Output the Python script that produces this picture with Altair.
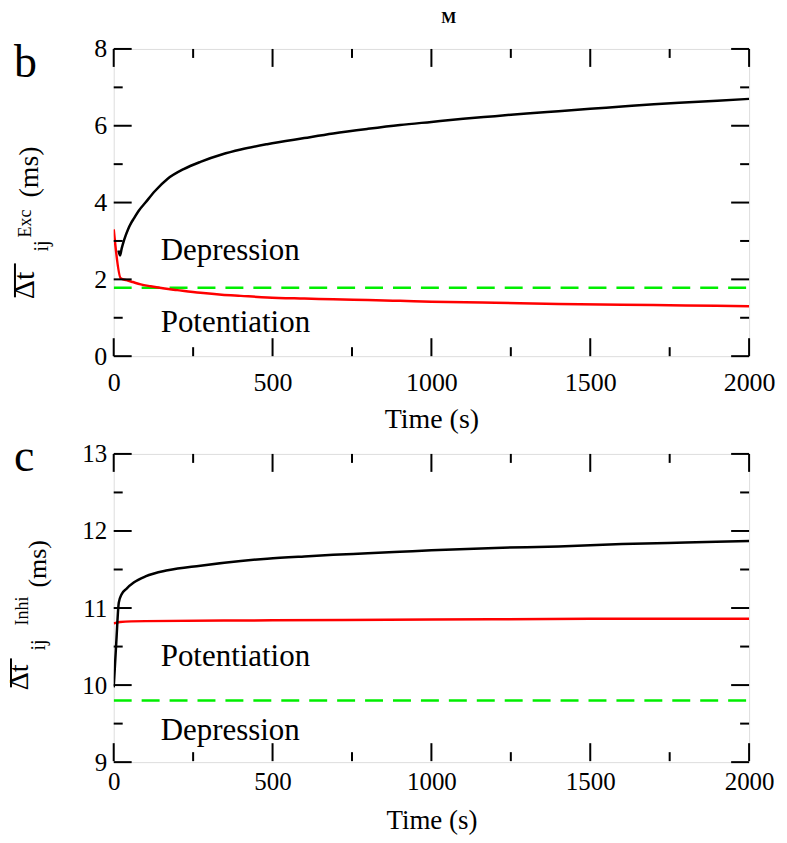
import altair as alt
import pandas as pd

W, H = 637, 308
FONT = "Liberation Serif, 'Times New Roman', Tinos, 'DejaVu Serif', serif"

# ---------------- panel b (excitatory) ----------------
exc_black_t = [15, 20, 25, 30, 38, 45, 55, 63, 80, 100, 130, 170, 220, 273, 340, 400, 483, 600, 691, 800, 901, 1000, 1100, 1200, 1300, 1400, 1500, 1600, 1700, 1780, 1900, 2000]
exc_black_v = [2.75, 2.62, 2.8, 2.95, 3.15, 3.3, 3.47, 3.58, 3.8, 4.0, 4.3, 4.62, 4.87, 5.06, 5.25, 5.38, 5.52, 5.68, 5.8, 5.92, 6.02, 6.1, 6.18, 6.25, 6.32, 6.38, 6.44, 6.5, 6.56, 6.6, 6.65, 6.7]
exc_red_t = [0, 22, 40, 60, 85, 116, 160, 200, 273, 340, 400, 483, 600, 691, 800, 901, 1000, 1200, 1400, 1600, 1800, 2000]
exc_red_v = [3.3, 2.03, 1.98, 1.93, 1.87, 1.82, 1.76, 1.72, 1.65, 1.6, 1.57, 1.53, 1.5, 1.48, 1.46, 1.44, 1.42, 1.39, 1.36, 1.34, 1.32, 1.30]
exc_green_t = [0, 2000]
exc_green_v = [1.78, 1.78]
exc_labels = ["Depression", "Potentiation"]
exc_label_t = [148, 148]
exc_label_v = [2.73, 0.86]

# ---------------- panel c (inhibitory) ----------------
inh_black_t = [0, 8, 16, 25, 40, 63, 100, 170, 273, 400, 483, 600, 691, 800, 901, 1000, 1200, 1400, 1600, 1800, 2000]
inh_black_v = [9.97, 10.55, 11.07, 11.18, 11.25, 11.33, 11.41, 11.49, 11.55, 11.61, 11.64, 11.67, 11.69, 11.71, 11.73, 11.75, 11.78, 11.8, 11.83, 11.85, 11.87]
inh_red_t = [0, 20, 100, 500, 1000, 1500, 2000]
inh_red_v = [10.80, 10.82, 10.83, 10.84, 10.85, 10.86, 10.86]
inh_green_t = [0, 2000]
inh_green_v = [9.8, 9.8]
inh_labels = ["Potentiation", "Depression"]
inh_label_t = [148, 148]
inh_label_v = [10.36, 9.41]

x_major = [0, 500, 1000, 1500, 2000]
x_minor = [250, 750, 1250, 1750]
exc_y_major = [0, 2, 4, 6, 8]
exc_y_minor = [1, 3, 5, 7]
inh_y_major = [9, 10, 11, 12, 13]
inh_y_minor = [9.5, 10.5, 11.5, 12.5]


def panel(bt, bv, rt, rv, gt, gv, lab, lt, lv, ydom, ymaj, ymin, tick_size, title_size, title_pad, label_pad):
    X = alt.X("t:Q", scale=alt.Scale(domain=[0, 2000], nice=False, zero=False),
              axis=alt.Axis(values=x_major, ticks=False, domain=False, grid=False,
                            labelFont=FONT, labelFontSize=tick_size, labelColor="black",
                            labelPadding=label_pad, format="d", labelFlush=False,
                            title="Time (s)", titleFont=FONT, titleFontSize=title_size,
                            titleFontWeight="normal", titleColor="black", titlePadding=title_pad))
    Y = alt.Y("v:Q", scale=alt.Scale(domain=ydom, nice=False, zero=False),
              axis=alt.Axis(values=ymaj, ticks=False, domain=False, grid=False,
                            labelFont=FONT, labelFontSize=tick_size, labelColor="black",
                            labelPadding=7, title=None, format="d", labelFlush=False))

    def line(t, v, color, dash=None):
        df = pd.DataFrame({"t": t, "v": v})
        kw = dict(color=color, strokeWidth=2.5, clip=True)
        if dash:
            kw["strokeDash"] = dash
        else:
            kw["interpolate"] = "monotone"
        return alt.Chart(df).mark_line(**kw).encode(x=X, y=Y)

    layers = [
        line(gt, gv, "#00ee00", [18, 10]),
        line(rt, rv, "#ff0000"),
        line(bt, bv, "#000000"),
    ]
    txt = alt.Chart(pd.DataFrame({"t": lt, "v": lv, "s": lab})).mark_text(
        font=FONT, fontSize=31, align="left", baseline="middle", color="black"
    ).encode(x=X, y=Y, text="s:N")
    layers.append(txt)

    # inward ticks on all four sides
    for vals, L in [(x_major, 18), (x_minor, 9)]:
        d = pd.DataFrame({"t": vals})
        layers.append(alt.Chart(d).mark_rule(color="black", strokeWidth=2).encode(
            x=X, y=alt.value(H), y2=alt.value(H - L)))
        layers.append(alt.Chart(d).mark_rule(color="black", strokeWidth=2).encode(
            x=X, y=alt.value(0), y2=alt.value(L)))
    for vals, L in [(ymaj, 18), (ymin, 9)]:
        d = pd.DataFrame({"v": vals})
        layers.append(alt.Chart(d).mark_rule(color="black", strokeWidth=2).encode(
            y=Y, x=alt.value(0), x2=alt.value(L)))
        layers.append(alt.Chart(d).mark_rule(color="black", strokeWidth=2).encode(
            y=Y, x=alt.value(W), x2=alt.value(W - L)))
    return layers


one = pd.DataFrame({"a": [0]})


def label(text, x, y, size, angle=0, align="left", baseline="alphabetic", weight="normal"):
    kw = dict(font=FONT, fontSize=size, align=align, baseline=baseline, color="black",
              fontWeight=weight, text=text)
    if angle:
        kw["angle"] = angle
    return alt.Chart(one).mark_text(**kw).encode(x=alt.value(x), y=alt.value(y))


def bar(x, y1, y2):
    return alt.Chart(one).mark_rule(color="black", strokeWidth=2).encode(
        x=alt.value(x), y=alt.value(y1), y2=alt.value(y2))


# bounding box so the page is exactly the window and plot sits where it should
bbox = alt.Chart(one).mark_rect(opacity=0).encode(
    x=alt.value(-113), x2=alt.value(674), y=alt.value(-47), y2=alt.value(796))

top_layers = panel(exc_black_t, exc_black_v, exc_red_t, exc_red_v, exc_green_t, exc_green_v,
                   exc_labels, exc_label_t, exc_label_v, [0, 8], exc_y_major, exc_y_minor,
                   26, 28, 11, 13)
top_layers = [bbox] + top_layers + [
    label("b", -100, 28, 46),
    label("M", 336, -31, 16, align="center", baseline="middle", weight="bold"),
    label("Δt", -80, 251, 30, angle=270),
    bar(-99, 249, 215),
    label("ij", -66, 203, 20, angle=270),
    label("Exc", -83, 189, 18, angle=270),
    label("(ms)", -76, 149, 28, angle=270),
]
top = alt.layer(*top_layers).properties(width=W, height=H)

bot_layers = panel(inh_black_t, inh_black_v, inh_red_t, inh_red_v, inh_green_t, inh_green_v,
                   inh_labels, inh_label_t, inh_label_v, [9, 13], inh_y_major, inh_y_minor,
                   25, 27, 14, 7)
bot_layers = bot_layers + [
    label("c", -100, 17, 46),
    label("Δt", -86, 237, 28, angle=270),
    bar(-103, 234, 205),
    label("ij", -69, 197, 20, angle=270),
    label("Inhi", -86, 172, 18, angle=270),
    label("(ms)", -68, 134, 26, angle=270),
]
bot = alt.layer(*bot_layers).properties(width=W, height=H + 1)

chart = alt.vconcat(top, bot, spacing=98, bounds="flush").properties(
    padding=0
).configure_view(stroke="black", strokeWidth=2).configure(background="white")

chart.save("out.html", embed_options={"renderer": "svg", "actions": False})
